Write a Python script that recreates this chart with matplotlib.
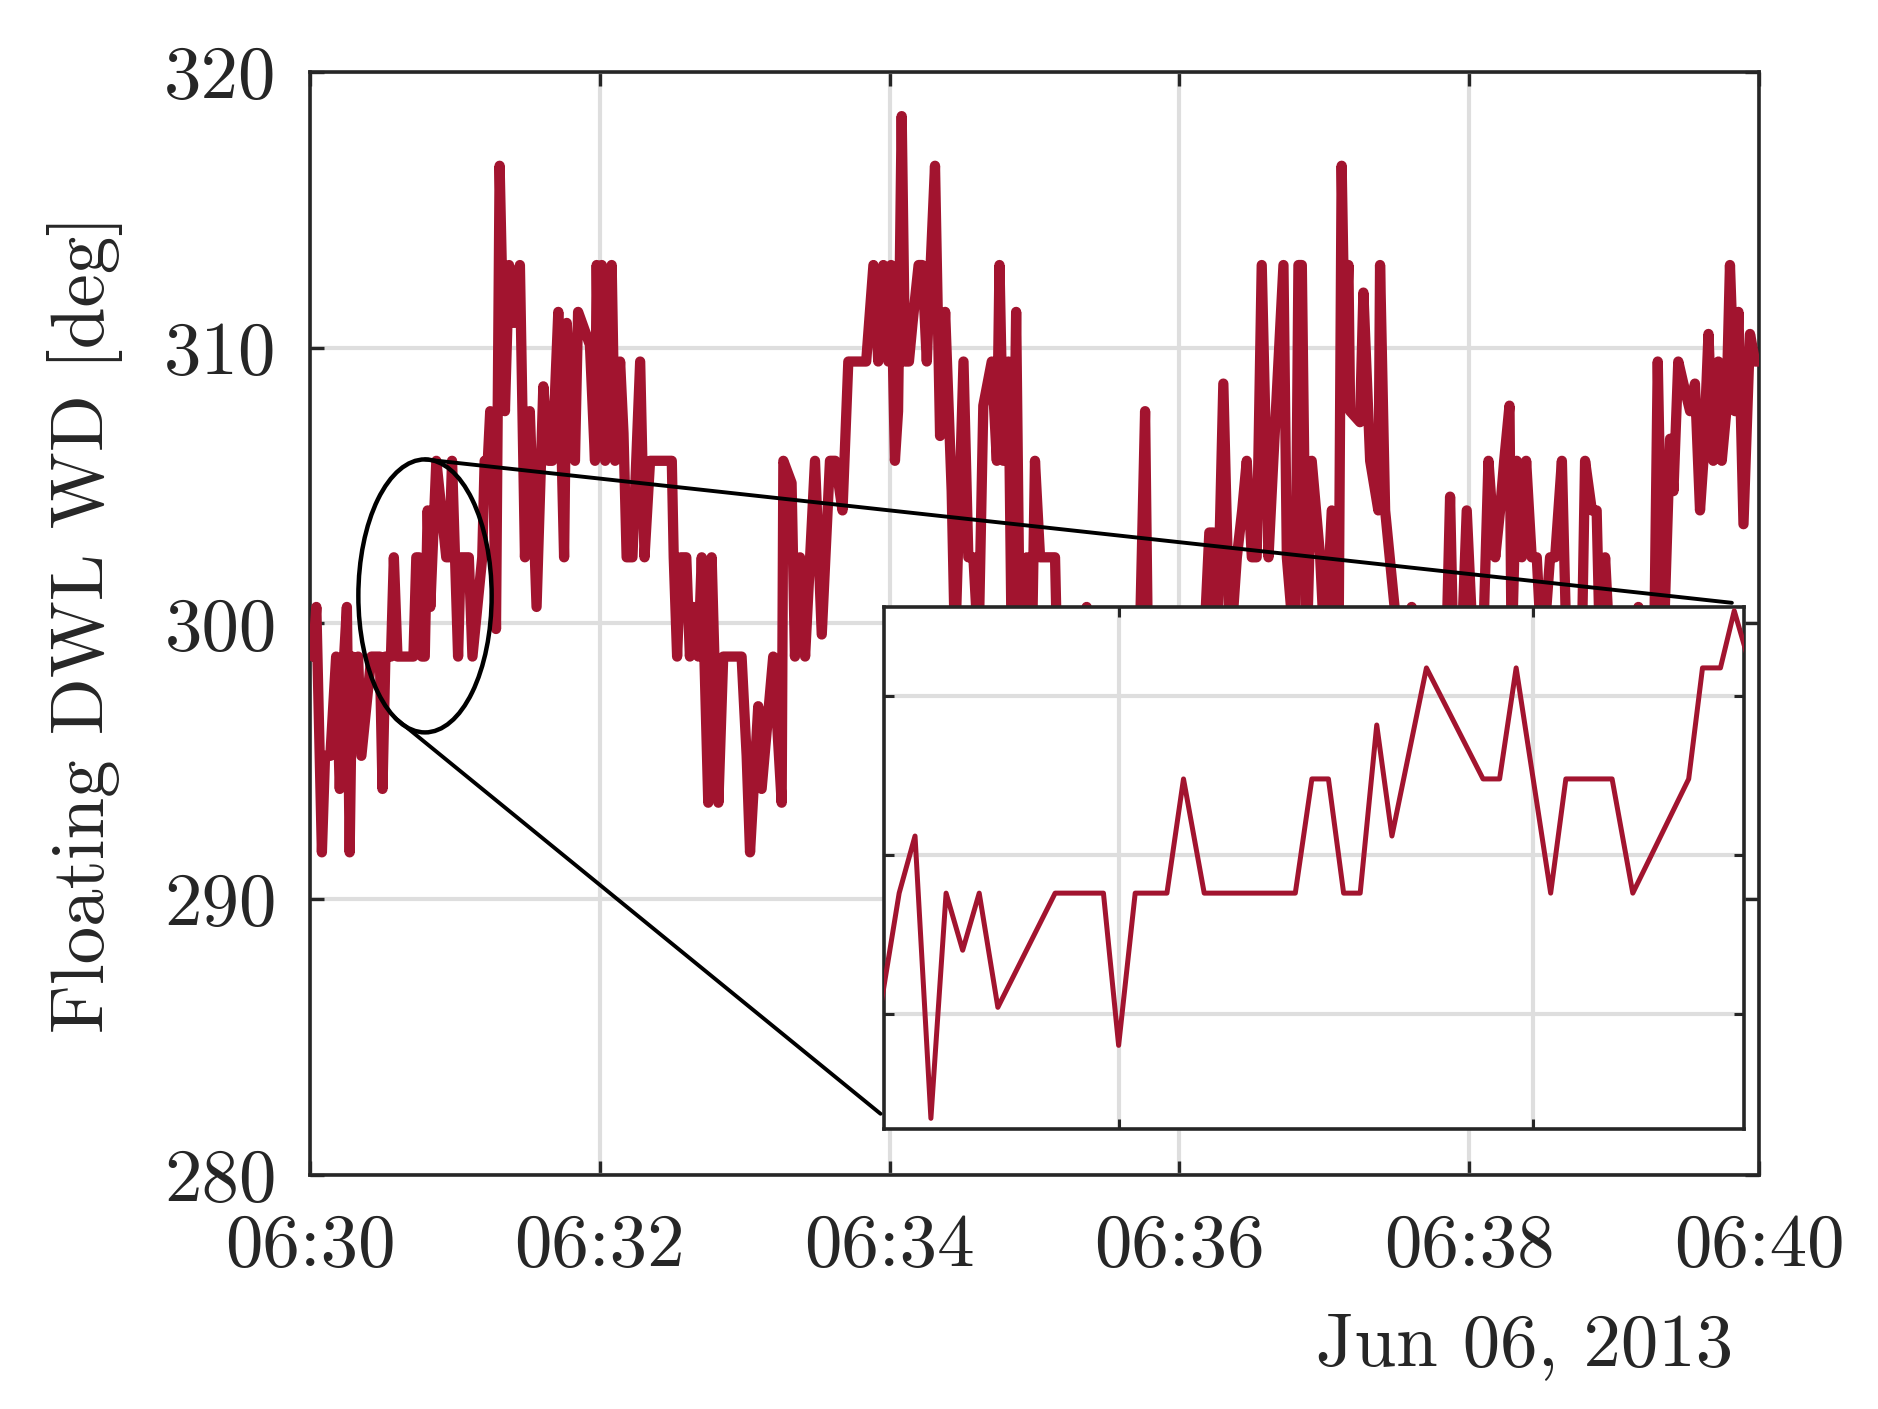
import numpy as np
import matplotlib
matplotlib.use('Agg')
import matplotlib.pyplot as plt
import matplotlib.dates as mdates
from matplotlib.patches import Ellipse, ConnectionPatch

plt.rcParams['font.family'] = ['cmr10', 'DejaVu Serif']
plt.rcParams['axes.unicode_minus'] = False

# seconds after 06:30:00 UTC, Jun 06 2013
secs = [1.2, 2.6, 4.9, 6.2, 8.4, 10.8, 12.3,
        14.1, 15.25, 16.4, 17.5, 18.7, 19.9, 21.25, 25.4, 28.9, 30.0, 31.2, 33.5,
        34.7, 36.2, 42.8, 44.0, 45.2, 46.3, 47.5, 48.7, 49.8, 52.3, 56.4, 57.6,
        58.8, 61.3, 62.4, 65.75, 67.25, 71.3, 72.3, 73.6, 74.6, 75.8, 77.0,
        78.5, 80.7, 82.4, 84.5, 86.9, 89.0, 91.0, 93.8, 96.6, 98.7, 100.3,
        102.8, 105.2, 106.3, 109.7, 111.0, 115.9, 118.0, 118.7, 119.8, 120.8,
        122.2, 124.9, 126.3, 128.4, 129.8, 131.1, 133.5, 136.7, 138.5, 140.8,
        149.8, 150.6, 152.0, 153.5, 155.8, 157.3, 158.7, 160.8, 162.2, 164.9,
        166.3, 169.1, 171.1, 178.7, 180.8, 182.2, 185.6, 187.0, 191.8, 195.3,
        196.0, 199.4, 200.8, 202.9, 205.0, 209.1, 211.9, 215.3, 217.5, 220.5,
        222.9, 230.3, 233.3, 235.3, 237.4, 239.5, 240.6, 242.2, 243.5, 245.0,
        246.4, 248.0, 249.5, 252.0, 253.5, 255.4, 256.5, 258.8, 260.9, 263.0,
        265.7, 267.1, 270.6, 272.6, 274.7, 276.8, 278.8, 282.3, 284.4, 285.5,
        287.1, 289.2, 290.6, 292.4, 294.0, 296.8, 298.9, 300.2, 302.3, 308.5,
        309.9, 313.0, 316.0, 319.0, 321.6, 324.0, 328.0, 332.0, 336.0, 340.0,
        343.0, 345.8, 347.0, 350.0, 354.0, 358.0, 362.0, 366.0, 370.0, 372.4,
        374.0, 375.5, 378.2, 381.0, 383.8, 386.0, 387.9, 390.0, 392.0, 394.1,
        396.9, 398.9, 403.1, 404.5, 407.9, 409.3, 410.7, 412.7, 414.8, 418.3,
        420.3, 423.1, 425.9, 427.2, 428.6, 430.0, 430.7, 434.8, 436.2, 439.0,
        442.4, 443.1, 445.2, 450.0, 453.0, 456.2, 459.0, 463.0, 467.0, 470.0,
        472.1, 473.5, 476.0, 479.0, 481.8, 485.0, 488.0, 490.8, 492.8, 494.5,
        496.7, 497.6, 499.7, 501.8, 503.6, 505.9, 508.0, 510.1, 512.0, 513.5,
        515.6, 518.4, 520.4, 523.0, 526.6, 528.0, 530.8, 532.8, 534.2, 536.3,
        538.4, 542.0, 546.0, 550.1, 553.0, 556.3, 558.1, 560.4, 563.2, 564.6,
        566.6, 568.7, 571.5, 573.5, 575.6, 577.0, 579.1, 581.1, 583.2, 584.6,
        586.5, 588.0, 590.1, 591.5, 593.6, 596.3, 598.4, 599.8]

# floating DWL wind direction [deg]
wd = [298.8, 300.6, 291.7, 295.2, 295.2, 298.8, 294.0,
      298.8, 300.6, 291.7, 298.8, 297.0, 298.8, 295.2, 298.8, 298.8, 294.0, 298.8, 298.8,
      302.4, 298.8, 298.8, 302.4, 302.4, 298.8, 298.8, 304.1, 300.6, 305.9, 302.4, 302.4,
      305.9, 298.8, 302.4, 302.4, 298.8, 302.4, 305.9, 305.9, 307.7, 305.9, 299.8,
      316.6, 307.7, 313.0, 310.9, 313.0, 302.4, 307.7, 300.6, 308.6, 305.9, 305.9,
      311.3, 302.4, 310.9, 305.9, 311.3, 310.1, 305.9, 313.0, 306.5, 313.0,
      305.9, 313.0, 305.9, 309.5, 306.9, 302.4, 302.4, 309.5, 302.4, 305.9,
      305.9, 302.4, 298.8, 302.4, 302.4, 298.8, 300.6, 298.8, 302.4, 293.5,
      302.4, 293.5, 298.8, 298.8, 295.2, 291.7, 297.0, 294.0, 298.8, 293.5,
      305.9, 305.1, 298.8, 302.4, 298.8, 305.9, 299.6, 305.9, 305.9, 304.1,
      309.5, 309.5, 313.0, 309.5, 313.0, 309.5, 313.0, 305.9, 307.7, 318.4,
      309.5, 309.5, 310.9, 313.0, 313.0, 309.5, 312.0, 316.6, 306.8, 311.3,
      304.8, 299.0, 309.5, 302.4, 302.4, 299.0, 307.9, 309.5, 305.9, 313.0,
      305.9, 309.5, 298.8, 311.3, 298.8, 302.4, 298.8, 305.9, 302.4, 302.4,
      297.0, 297.0, 298.8, 295.2, 300.6, 298.8, 297.0, 298.8, 295.2, 298.8,
      297.0, 307.7, 298.8, 297.0, 298.8, 297.0, 298.8, 297.0, 298.8, 303.3,
      303.3, 298.8, 308.7, 298.8, 302.4, 304.1, 305.9, 302.4, 302.4, 313.0,
      302.4, 305.9, 313.0, 302.4, 298.8, 313.0, 313.0, 298.8, 305.9, 302.4,
      298.8, 304.1, 298.8, 316.6, 309.4, 313.0, 307.7, 307.3, 312.0, 305.9,
      304.1, 313.0, 304.1, 299.8, 297.0, 300.6, 298.8, 297.0, 298.8, 297.0,
      304.6, 298.8, 297.0, 304.1, 298.8, 297.0, 305.9, 302.4, 304.1, 305.9,
      307.9, 298.8, 305.9, 302.4, 305.9, 302.4, 302.4, 298.8, 300.6, 302.4,
      302.4, 305.9, 298.8, 297.0, 298.8, 305.9, 304.1, 304.1, 298.8, 302.4,
      298.8, 297.0, 298.8, 300.6, 298.8, 297.0, 309.5, 298.8, 306.7, 304.8,
      309.5, 308.7, 307.7, 308.7, 304.1, 305.9, 310.5, 305.9, 309.5, 305.9,
      307.7, 313.0, 307.7, 311.3, 303.6, 310.5, 309.5, 309.5]

yticks = [280, 290, 300, 310, 320]
inset_yticks = [295, 300, 305]
inset_ylim = (291.35, 307.82)
inset_xlim_s = (13.0, 75.3)
inset_xticks_s = [30, 60]
# zoom marker (seconds, deg)
ell_center = (47.6, 301.0)
ell_w, ell_h = 55.2, 9.9

red = '#A2142F'
dark = '#262626'

start = np.datetime64('2013-06-06T06:30:00')


def to_time(s):
    return start + (np.asarray(s) * 1000).astype('timedelta64[ms]')


time = to_time(secs)

fig = plt.figure(figsize=(9.39, 7.045), dpi=200)
ax = fig.add_axes([0.1651, 0.1661, 0.7715, 0.7828])

ax.plot(time, wd, color=red, lw=3.7, solid_joinstyle='round', solid_capstyle='round', zorder=3)
ax.set_xlim(to_time(0), to_time(600))
ax.set_ylim(280, 320)
ax.set_yticks(yticks)
ax.set_xticks(to_time(np.arange(0, 601, 120)))
ax.xaxis.set_major_formatter(mdates.DateFormatter('%H:%M'))
ax.grid(True, color='#dedede', lw=1.5)
ax.set_axisbelow(True)
ax.tick_params(direction='in', top=True, right=True, length=5, width=1.2,
               labelsize=27, colors=dark)
ax.tick_params(axis='x', pad=14)
ax.tick_params(axis='y', pad=12)
for sp in ax.spines.values():
    sp.set_color(dark)
    sp.set_linewidth(1.3)
ax.set_ylabel('Floating DWL WD [deg]', fontsize=27, color=dark)
ax.yaxis.set_label_coords(-0.129, 0.5)

fig.text(0.9228, 0.0309, 'Jun 06, 2013', fontsize=27, color=dark,
         ha='right', va='baseline')

# ellipse marking the zoomed region
cx = mdates.date2num(to_time(ell_center[0]))
w_days = ell_w / 86400.0
ell = Ellipse((cx, ell_center[1]), w_days, ell_h, fill=False, color='black',
              lw=1.6, zorder=4)
ax.add_patch(ell)

# inset
axins = fig.add_axes([0.4707, 0.1984, 0.4579, 0.3708])
axins.plot(time, wd, color=red, lw=1.8, zorder=3)
axins.set_xlim(to_time(inset_xlim_s[0]), to_time(inset_xlim_s[1]))
axins.set_ylim(*inset_ylim)
axins.set_xticks(to_time(inset_xticks_s))
axins.set_yticks(inset_yticks)
axins.grid(True, color='#dedede', lw=1.5)
axins.set_axisbelow(True)
axins.tick_params(direction='in', top=True, right=True, length=3.5, width=1.1,
                  labelbottom=False, labelleft=False, colors=dark)
for sp in axins.spines.values():
    sp.set_color(dark)
    sp.set_linewidth(1.3)

# connector lines from the ellipse to the inset
th = np.deg2rad(243.5)
p_low = (cx + w_days / 2 * np.cos(th), ell_center[1] + ell_h / 2 * np.sin(th))
p_top = (cx, ell_center[1] + ell_h / 2)
for pa, pb in [(p_top, (0.986, 1.008)), (p_low, (-0.004, 0.03))]:
    con = ConnectionPatch(xyA=pa, coordsA=ax.transData, xyB=pb, coordsB=axins.transAxes,
                          color='black', lw=1.4, zorder=5)
    fig.add_artist(con)

fig.savefig('out.png', dpi=200)
